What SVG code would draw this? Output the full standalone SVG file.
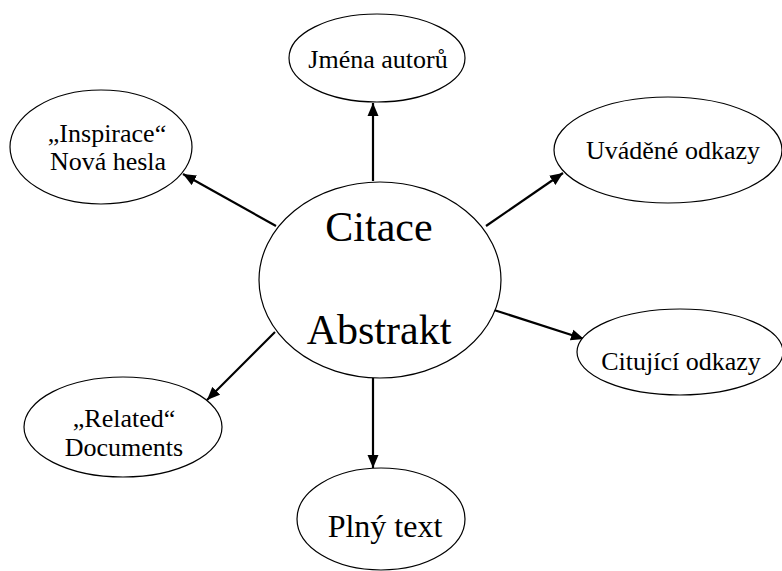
<svg xmlns="http://www.w3.org/2000/svg" width="782" height="571" viewBox="0 0 782 571">
<style>
.node ellipse{fill:#fff;stroke:#000;stroke-width:1.2}
.node text{font-family:"Liberation Serif","Times New Roman",serif;font-size:26px;fill:#000;text-anchor:middle}
.node text.big{font-size:42px}
.node text.mid{font-size:32px}
.edges line{stroke:#000;stroke-width:2.2;marker-end:url(#ah)}
</style>
<defs>
<marker id="ah" markerUnits="userSpaceOnUse" markerWidth="14" markerHeight="12" refX="13" refY="6" orient="auto">
<path d="M0,0.5 L13,6 L0,11.5 Z" fill="#000"/>
</marker>
</defs>
<g class="edges">
<line x1="373" y1="181" x2="373" y2="103"/>
<line x1="276" y1="226" x2="183" y2="174"/>
<line x1="486" y1="226" x2="563" y2="173"/>
<line x1="494" y1="310" x2="584" y2="339"/>
<line x1="275" y1="332" x2="207" y2="400"/>
<line x1="373" y1="378" x2="373" y2="468"/>
</g>
<g id="center" class="node">
<ellipse cx="380" cy="280" rx="121" ry="98"/>
<text class="big" x="379" y="241">Citace</text>
<text class="big" x="379" y="344">Abstrakt</text>
</g>
<g id="jmena" class="node">
<ellipse cx="377" cy="58" rx="88" ry="44"/>
<text x="378" y="68">Jména autorů</text>
</g>
<g id="inspirace" class="node">
<ellipse cx="101" cy="147" rx="91" ry="57"/>
<text x="107" y="142">„Inspirace“</text>
<text x="108" y="170">Nová hesla</text>
</g>
<g id="uvadene" class="node">
<ellipse cx="668" cy="150" rx="114" ry="53"/>
<text x="673" y="159">Uváděné odkazy</text>
</g>
<g id="citujici" class="node">
<ellipse cx="680" cy="352" rx="103" ry="43"/>
<text x="681" y="370">Citující odkazy</text>
</g>
<g id="related" class="node">
<ellipse cx="123" cy="427" rx="99" ry="50"/>
<text x="124" y="427">„Related“</text>
<text x="124" y="456">Documents</text>
</g>
<g id="plny" class="node">
<ellipse cx="381" cy="519" rx="84" ry="51"/>
<text class="mid" x="385" y="537">Plný text</text>
</g>
</svg>
